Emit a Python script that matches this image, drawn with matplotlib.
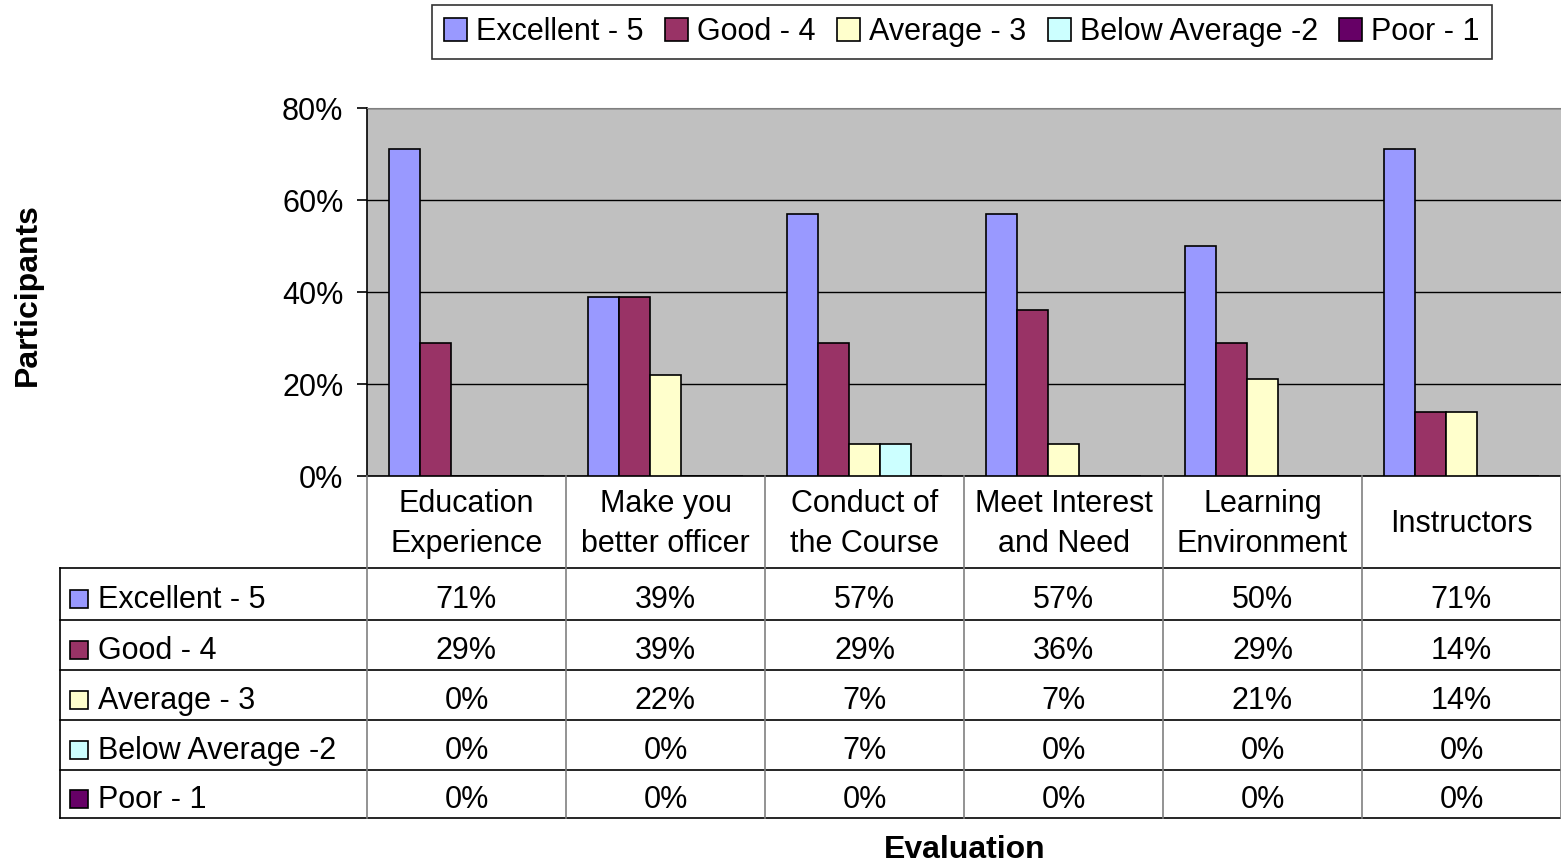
import matplotlib
matplotlib.use("Agg")
import matplotlib.pyplot as plt
from matplotlib.patches import Rectangle, Patch
import numpy as np

plt.rcParams['font.family'] = ['Liberation Sans', 'DejaVu Sans']

categories = ["Education\nExperience", "Make you\nbetter officer", "Conduct of\nthe Course",
              "Meet Interest\nand Need", "Learning\nEnvironment", "Instructors"]
series_names = ["Excellent - 5", "Good - 4", "Average - 3", "Below Average -2", "Poor - 1"]
excellent = [71, 39, 57, 57, 50, 71]
good = [29, 39, 29, 36, 29, 14]
average = [0, 22, 7, 7, 21, 14]
below_average = [0, 0, 7, 0, 0, 0]
poor = [0, 0, 0, 0, 0, 0]
series = [excellent, good, average, below_average, poor]
colors = ["#9999FF", "#993366", "#FFFFCC", "#CCFFFF", "#660066"]
yticks = [0, 20, 40, 60, 80]

FS = 22
W, H = 1561, 867
fig = plt.figure(figsize=(W / 100, H / 100), dpi=100)

def fx(px):
    return px / W

def fy(py):
    return 1 - py / H

# main plot area
ax = fig.add_axes([fx(367), fy(476), fx(1561) - fx(367), fy(108) - fy(476)])
ax.set_facecolor("#C0C0C0")
ncat = len(categories)
bw = 0.156
x0 = np.arange(ncat) + 0.5
for i, (vals, c) in enumerate(zip(series, colors)):
    xs = x0 + (i - 2) * bw
    ax.bar(xs, vals, width=bw, color=c, edgecolor="black", linewidth=1.2, zorder=3)
ax.set_xlim(0, ncat)
ax.set_ylim(0, 80)
ax.set_yticks(yticks)
ax.set_yticklabels([f"{v}%" for v in yticks], fontsize=FS)
ax.yaxis.grid(True, color="black", linewidth=1, zorder=1)
ax.set_xticks([])
ax.tick_params(axis="y", length=7, width=1.2, pad=10)
ax.spines["right"].set_visible(False)
ax.spines["top"].set_color("#808080")
ax.spines["left"].set_linewidth(1.2)
ax.spines["bottom"].set_linewidth(1.2)

# table area
tab = fig.add_axes([fx(60), fy(818), fx(1561) - fx(60), fy(476) - fy(818)])
left_units = (367 - 60) / 199.0
tab.set_xlim(-left_units, ncat)
tab.set_ylim(342, 0)
tab.axis("off")
header_h = 92
row_bounds = [header_h, 144, 194, 244, 294, 342]
for yb in row_bounds:
    tab.plot([-left_units, ncat], [yb, yb], color="black", linewidth=1.2, clip_on=False)
for k in range(ncat + 1):
    tab.plot([k, k], [0, 342], color="#808080", linewidth=1.2, clip_on=False)
tab.plot([-left_units, -left_units], [header_h, 342], color="black", linewidth=1.2, clip_on=False)
for k, lab in enumerate(categories):
    tab.text(k + 0.5, header_h / 2 + 2, lab, ha="center", va="center", fontsize=FS, linespacing=1.45)
for r, (name, vals, c) in enumerate(zip(series_names, series, colors)):
    yc = (row_bounds[r] + row_bounds[r + 1]) / 2 + 6
    tab.add_patch(Rectangle((-left_units + 10 / 199, yc - 10), 18 / 199, 18,
                            facecolor=c, edgecolor="black", linewidth=1.2, clip_on=False))
    tab.text(-left_units + 38 / 199, yc, name, ha="left", va="center", fontsize=FS)
    for k, v in enumerate(vals):
        tab.text(k + 0.5, yc, f"{v}%", ha="center", va="center", fontsize=FS)

# axis titles
fig.text(fx(28), fy(295), "Participants", rotation=90, ha="center", va="center",
         fontsize=23, fontweight="bold")
fig.text(fx(965), fy(850), "Evaluation", ha="center", va="center", fontsize=23, fontweight="bold")

# legend
handles = [Patch(facecolor=c, edgecolor="black", linewidth=1.2) for c in colors]
leg = fig.legend(handles, series_names, loc="center", bbox_to_anchor=(fx(962), fy(32)),
                 ncol=5, fontsize=FS, frameon=True, fancybox=False, handlelength=0.75,
                 handleheight=0.75, handletextpad=0.3, columnspacing=0.7,
                 borderpad=0.4, edgecolor="black")
leg.get_frame().set_linewidth(1.2)

fig.savefig("out.png", dpi=100)
